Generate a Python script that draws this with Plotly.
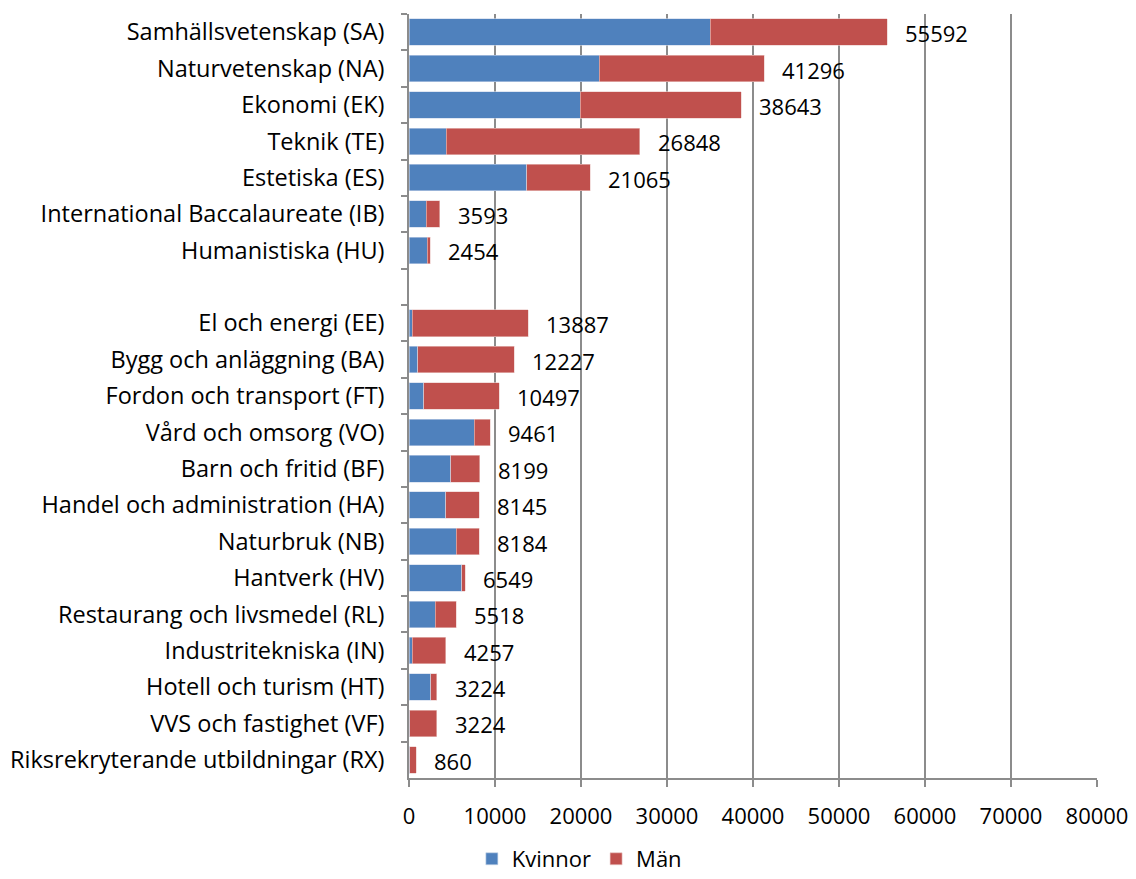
import plotly.graph_objects as go

categories = [
    "Samhällsvetenskap (SA)", "Naturvetenskap (NA)", "Ekonomi (EK)", "Teknik (TE)",
    "Estetiska (ES)", "International Baccalaureate (IB)", "Humanistiska (HU)", " ",
    "El och energi (EE)", "Bygg och anläggning (BA)", "Fordon och transport (FT)",
    "Vård och omsorg (VO)", "Barn och fritid (BF)", "Handel och administration (HA)",
    "Naturbruk (NB)", "Hantverk (HV)", "Restaurang och livsmedel (RL)",
    "Industritekniska (IN)", "Hotell och turism (HT)", "VVS och fastighet (VF)",
    "Riksrekryterande utbildningar (RX)",
]
totals = [55592, 41296, 38643, 26848, 21065, 3593, 2454, None,
          13887, 12227, 10497, 9461, 8199, 8145, 8184, 6549, 5518, 4257, 3224, 3224, 860]
kvinnor = [35000, 22100, 19900, 4350, 13700, 2020, 2100, None,
           400, 1000, 1700, 7600, 4850, 4300, 5500, 6150, 3050, 400, 2550, 100, 60]
man = [t - k if t is not None else None for t, k in zip(totals, kvinnor)]
tick_vals = [0, 10000, 20000, 30000, 40000, 50000, 60000, 70000, 80000]

FONT = "Open Sans, Carlito, Calibri, sans-serif"
FS = 22

fig = go.Figure()
fig.add_trace(go.Bar(y=categories, x=kvinnor, name="Kvinnor", orientation="h",
                     marker=dict(color="#4F81BD", line=dict(color="#C9D6EA", width=0.6))))
fig.add_trace(go.Bar(y=categories, x=man, name="Män", orientation="h",
                     marker=dict(color="#C0504D", line=dict(color="#EBC9C8", width=0.6))))

for c, t in zip(categories, totals):
    if t is None:
        continue
    fig.add_annotation(x=t, y=c, text=str(t), showarrow=False, xanchor="left",
                       xshift=16, yshift=-1, font=dict(size=FS, color="black", family=FONT))

fig.update_layout(
    barmode="stack",
    bargap=0.27,
    width=1136, height=879,
    margin=dict(l=409, r=39, t=14, b=101, autoexpand=False),
    plot_bgcolor="white", paper_bgcolor="white",
    font=dict(family=FONT, size=FS, color="black"),
    legend=dict(orientation="h", xref="container", x=0.51, xanchor="center",
                y=-0.106, yanchor="middle",
                font=dict(size=FS), itemwidth=30, traceorder="normal"),
    xaxis=dict(range=[0, 80000], tickvals=tick_vals, ticktext=[str(v) for v in tick_vals],
               showgrid=True, gridcolor="#8C8C8C", gridwidth=1.5,
               showline=True, linecolor="#8C8C8C", linewidth=1.5,
               ticks="outside", ticklen=7, tickcolor="#8C8C8C", tickwidth=1.5,
               ticklabelstandoff=11, zeroline=False, automargin=False),
    yaxis=dict(categoryorder="array", categoryarray=categories, autorange="reversed",
               showline=True, linecolor="#8C8C8C", linewidth=1.5,
               ticks="outside", ticklen=6, tickcolor="#8C8C8C", tickwidth=1.5,
               tickfont=dict(size=23.5),
               tickson="boundaries", ticklabelstandoff=18, showgrid=False, automargin=False),
)

fig.write_html("out.html", post_script="document.body.style.margin='0px';",
               config={"displayModeBar": False})
